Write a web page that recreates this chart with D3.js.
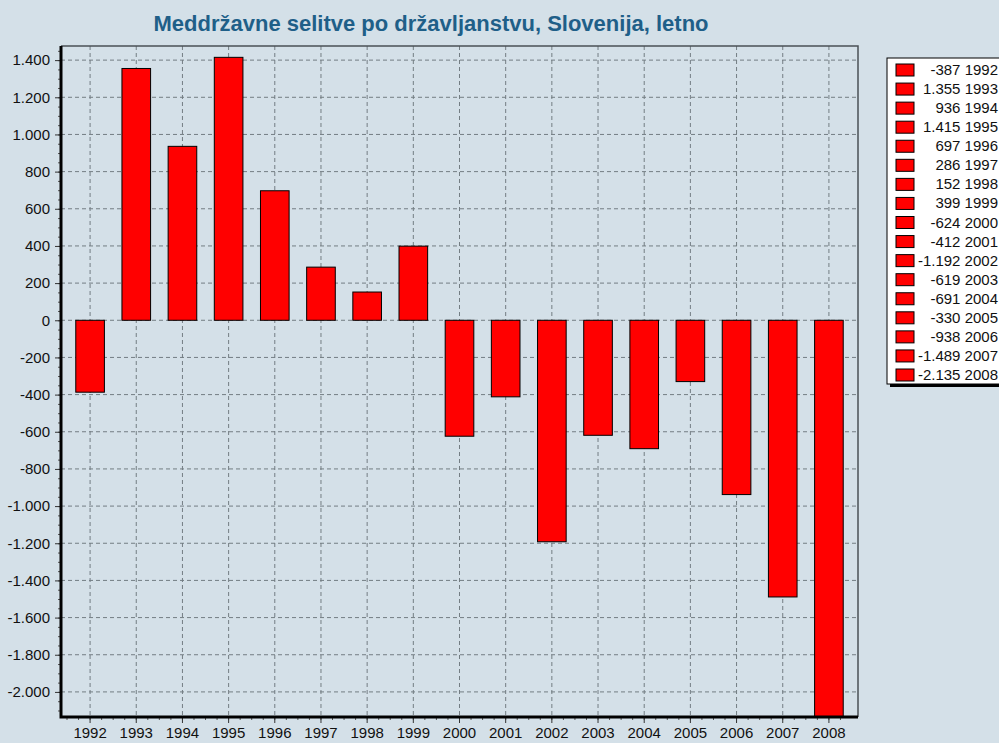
<!DOCTYPE html>
<html>
<head>
<meta charset="utf-8">
<script src="https://cdn.jsdelivr.net/npm/d3@7"></script>
<style>
  body { margin: 0; background: #d4e0e8; }
  svg { display: block; font-family: Arial, "Liberation Sans", sans-serif; }
  .grid line { stroke: #737d83; stroke-dasharray: 4,3; }
  .tick text { font-size: 15px; fill: #111; }
</style>
</head>
<body>
<svg id="chart"></svg>
<script>
// DATA
const years = ["1992","1993","1994","1995","1996","1997","1998","1999","2000",
               "2001","2002","2003","2004","2005","2006","2007","2008"];
const values = [-387, 1355, 936, 1415, 697, 286, 152, 399, -624,
                -412, -1192, -619, -691, -330, -938, -1489, -2135];
const yTicks = [1400, 1200, 1000, 800, 600, 400, 200, 0, -200, -400, -600,
                -800, -1000, -1200, -1400, -1600, -1800, -2000];
const title = "Meddržavne selitve po državljanstvu, Slovenija, letno";

const width = 999;
const height = 743;
const plot = {left: 61, top: 46, right: 858, bottom: 717};

const sl = d3.formatLocale({decimal: ",", thousands: ".", grouping: [3], currency: ["", ""], minus: "-"});
const fmt = sl.format(",d");

const svg = d3.select("#chart")
  .attr("width", width)
  .attr("height", height);

// scales
const x = d3.scaleBand()
  .domain(years)
  .range([plot.left + 6, plot.right - 6])
  .paddingInner(0.38)
  .paddingOuter(0.19);

const y = d3.scaleLinear()
  .domain([-2135, 1476])
  .range([plot.bottom, plot.top]);

const step = x.step();
const center = d => x(d) + x.bandwidth() / 2;

// title
svg.append("text")
  .attr("x", 431)
  .attr("y", 31)
  .attr("text-anchor", "middle")
  .attr("font-size", 22)
  .attr("font-weight", "bold")
  .attr("fill", "#1f5f88")
  .text(title);

// grid
const grid = svg.append("g").attr("class", "grid");
grid.selectAll(".h").data(yTicks).join("line")
  .attr("x1", plot.left).attr("x2", plot.right)
  .attr("y1", d => y(d)).attr("y2", d => y(d));
grid.selectAll(".v").data(years).join("line")
  .attr("x1", center).attr("x2", center)
  .attr("y1", plot.top).attr("y2", plot.bottom);

// bars
svg.append("g").selectAll("rect")
  .data(years.map((yr, i) => ({year: yr, value: values[i]})))
  .join("rect")
  .attr("x", d => x(d.year))
  .attr("width", x.bandwidth())
  .attr("y", d => y(Math.max(0, d.value)))
  .attr("height", d => Math.abs(y(d.value) - y(0)))
  .attr("fill", "#ff0000")
  .attr("stroke", "#000")
  .attr("stroke-width", 1);

// frame (top and right)
svg.append("path")
  .attr("d", `M${plot.left},${plot.top}H${plot.right}V${plot.bottom}`)
  .attr("fill", "none")
  .attr("stroke", "#4a5055")
  .attr("stroke-width", 1.5);

// y axis
const yMinor = d3.range(-2100, 1476, 50);
svg.append("g")
  .attr("transform", `translate(${plot.left},0)`)
  .call(d3.axisLeft(y).tickValues(yMinor).tickSize(3).tickFormat(""))
  .call(g => g.select(".domain").remove())
  .call(g => g.selectAll(".tick line").attr("stroke", "#555"));
svg.append("g")
  .attr("transform", `translate(${plot.left},0)`)
  .call(d3.axisLeft(y).tickValues(yTicks).tickSize(6).tickPadding(5).tickFormat(fmt))
  .call(g => g.select(".domain").remove())
  .call(g => g.selectAll(".tick line").attr("stroke", "#333"));

// x axis
const xMinor = [];
years.forEach(yr => { for (let k = -2; k <= 1; k++) xMinor.push(center(yr) + k * step / 4); });
svg.append("g").selectAll("line")
  .data(xMinor)
  .join("line")
  .attr("x1", d => d).attr("x2", d => d)
  .attr("y1", plot.bottom).attr("y2", plot.bottom + 3)
  .attr("stroke", "#555");
svg.append("g")
  .attr("transform", `translate(0,${plot.bottom})`)
  .call(d3.axisBottom(x).tickSize(6).tickPadding(4))
  .call(g => g.select(".domain").remove())
  .call(g => g.selectAll(".tick line").attr("stroke", "#333"));

// thick axis lines
svg.append("path")
  .attr("d", `M${plot.left},${plot.top}V${plot.bottom}H${plot.right}`)
  .attr("fill", "none")
  .attr("stroke", "#000")
  .attr("stroke-width", 3);

// legend
const legend = svg.append("g");
const lg = {x: 887, y: 58, w: 120, h: 326};
legend.append("rect")
  .attr("x", lg.x + 3).attr("y", lg.y + 3)
  .attr("width", lg.w).attr("height", lg.h)
  .attr("fill", "#000");
legend.append("rect")
  .attr("x", lg.x).attr("y", lg.y)
  .attr("width", lg.w).attr("height", lg.h)
  .attr("fill", "#fff")
  .attr("stroke", "#000");

const rowY = d3.scalePoint().domain(years).range([70, 375]);
const items = legend.selectAll(".item")
  .data(years.map((yr, i) => ({year: yr, value: values[i]})))
  .join("g")
  .attr("transform", d => `translate(0,${rowY(d.year)})`);
items.append("rect")
  .attr("x", 896).attr("y", -6)
  .attr("width", 18).attr("height", 12)
  .attr("fill", "#ff0000")
  .attr("stroke", "#000");
items.append("text")
  .attr("x", 998).attr("y", 5)
  .attr("text-anchor", "end")
  .attr("font-size", 15)
  .attr("fill", "#111")
  .text(d => `${fmt(d.value)} ${d.year}`);
</script>
</body>
</html>
